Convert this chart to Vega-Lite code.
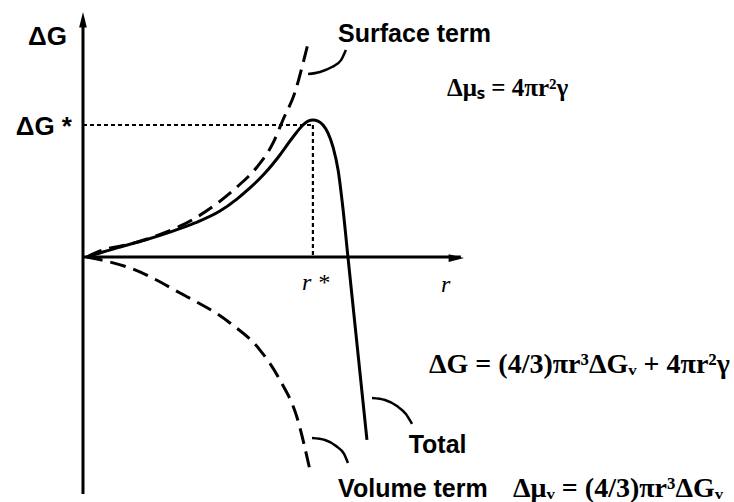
{
  "$schema": "https://vega.github.io/schema/vega-lite/v6.json",
  "width": 734,
  "height": 502,
  "autosize": {"type": "none"},
  "padding": 0,
  "background": "white",
  "config": {"view": {"stroke": null}},
  "encoding": {
    "x": {"field": "r", "type": "quantitative", "scale": {"domain": [-0.3624, 2.8428], "nice": false, "zero": false}, "axis": null},
    "y": {"field": "g", "type": "quantitative", "scale": {"domain": [-1.856, 1.947], "nice": false, "zero": false}, "axis": null}
  },
  "layer": [
    {
      "data": {"values": [
        {"r": 0, "g": -1.795, "r2": 0, "g2": 1.80},
        {"r": 0, "g": 0, "r2": 1.65, "g2": 0}
      ]},
      "mark": {"type": "rule", "color": "black", "strokeWidth": 3},
      "encoding": {"x2": {"field": "r2"}, "y2": {"field": "g2"}}
    },
    {
      "data": {"values": [{"r": 0, "g": 1.856}]},
      "mark": {"type": "point", "shape": "M0,0L-0.55,2.2L0.55,2.2Z", "size": 196, "filled": true, "color": "black", "opacity": 1},
      "encoding": {}
    },
    {
      "data": {"values": [{"r": 1.664, "g": -0.008}]},
      "mark": {"type": "point", "shape": "M0,0L-2.2,-0.55L-2.2,0.55Z", "size": 196, "filled": true, "color": "black", "opacity": 1},
      "encoding": {}
    },
    {
      "data": {"values": [
        {"r": 0, "g": 1.0, "r2": 1.004, "g2": 1.0},
        {"r": 1.004, "g": 1.0, "r2": 1.004, "g2": 0}
      ]},
      "mark": {"type": "rule", "color": "black", "strokeWidth": 2.2, "strokeDash": [4, 3]},
      "encoding": {"x2": {"field": "r2"}, "y2": {"field": "g2"}}
    },
    {
      "data": {"values": [
        {"r": 0.017, "g": 0},
        {"r": 0.087, "g": 0.038},
        {"r": 0.162, "g": 0.076},
        {"r": 0.271, "g": 0.129},
        {"r": 0.380, "g": 0.189},
        {"r": 0.489, "g": 0.258},
        {"r": 0.598, "g": 0.348},
        {"r": 0.672, "g": 0.439},
        {"r": 0.729, "g": 0.523},
        {"r": 0.795, "g": 0.636},
        {"r": 0.860, "g": 0.773},
        {"r": 0.917, "g": 0.909},
        {"r": 0.961, "g": 1.000},
        {"r": 0.983, "g": 1.030},
        {"r": 1.004, "g": 1.038},
        {"r": 1.026, "g": 1.030},
        {"r": 1.048, "g": 1.000},
        {"r": 1.070, "g": 0.939},
        {"r": 1.092, "g": 0.833},
        {"r": 1.114, "g": 0.659},
        {"r": 1.135, "g": 0.371},
        {"r": 1.157, "g": 0},
        {"r": 1.240, "g": -1.386}
      ]},
      "mark": {"type": "line", "color": "black", "strokeWidth": 3, "interpolate": "monotone"},
      "encoding": {}
    },
    {
      "data": {"values": [
        {"s": "surface", "r": 0.017, "g": 0},
        {"s": "surface", "r": 0.087, "g": 0.053},
        {"s": "surface", "r": 0.205, "g": 0.098},
        {"s": "surface", "r": 0.306, "g": 0.152},
        {"s": "surface", "r": 0.498, "g": 0.303},
        {"s": "surface", "r": 0.672, "g": 0.530},
        {"s": "surface", "r": 0.760, "g": 0.682},
        {"s": "surface", "r": 0.830, "g": 0.864},
        {"s": "surface", "r": 0.873, "g": 1.038},
        {"s": "surface", "r": 0.926, "g": 1.250},
        {"s": "surface", "r": 0.961, "g": 1.470},
        {"s": "surface", "r": 0.983, "g": 1.621},
        {"s": "volume", "r": 0.017, "g": 0},
        {"s": "volume", "r": 0.118, "g": -0.038},
        {"s": "volume", "r": 0.205, "g": -0.083},
        {"s": "volume", "r": 0.424, "g": -0.273},
        {"s": "volume", "r": 0.642, "g": -0.500},
        {"s": "volume", "r": 0.773, "g": -0.705},
        {"s": "volume", "r": 0.860, "g": -0.932},
        {"s": "volume", "r": 0.934, "g": -1.212},
        {"s": "volume", "r": 0.991, "g": -1.614}
      ]},
      "mark": {"type": "line", "color": "black", "strokeWidth": 3, "strokeDash": [16, 8], "interpolate": "monotone"},
      "encoding": {"detail": {"field": "s"}}
    },
    {
      "data": {"values": [
        {"l": "surface", "r": 0.983, "g": 1.386},
        {"l": "surface", "r": 1.035, "g": 1.402},
        {"l": "surface", "r": 1.087, "g": 1.439},
        {"l": "surface", "r": 1.127, "g": 1.492},
        {"l": "surface", "r": 1.148, "g": 1.568},
        {"l": "total", "r": 1.262, "g": -1.068},
        {"l": "total", "r": 1.319, "g": -1.083},
        {"l": "total", "r": 1.371, "g": -1.129},
        {"l": "total", "r": 1.410, "g": -1.189},
        {"l": "total", "r": 1.437, "g": -1.265},
        {"l": "volume", "r": 1.000, "g": -1.371},
        {"l": "volume", "r": 1.057, "g": -1.386},
        {"l": "volume", "r": 1.105, "g": -1.432},
        {"l": "volume", "r": 1.140, "g": -1.492},
        {"l": "volume", "r": 1.157, "g": -1.561}
      ]},
      "mark": {"type": "line", "color": "black", "strokeWidth": 2.5, "interpolate": "monotone"},
      "encoding": {"detail": {"field": "l"}}
    },
    {
      "data": {"values": [
        {"t": "ΔG", "r": -0.070, "g": 1.667},
        {"t": "ΔG *", "r": -0.048, "g": 0.985}
      ]},
      "mark": {"type": "text", "font": "Liberation Sans", "fontWeight": "bold", "fontSize": 26, "align": "right", "baseline": "middle", "color": "black"},
      "encoding": {"text": {"field": "t"}}
    },
    {
      "data": {"values": [
        {"t": "Surface term", "r": 1.114, "g": 1.689},
        {"t": "Total", "r": 1.422, "g": -1.424},
        {"t": "Volume term", "r": 1.114, "g": -1.758}
      ]},
      "mark": {"type": "text", "font": "Liberation Sans", "fontWeight": "bold", "fontSize": 25, "align": "left", "baseline": "middle", "color": "black"},
      "encoding": {"text": {"field": "t"}}
    },
    {
      "data": {"values": [
        {"t": "Δμₛ = 4πr²γ", "r": 1.590, "g": 1.280}
      ]},
      "mark": {"type": "text", "font": "Liberation Serif", "fontWeight": "bold", "fontSize": 25, "align": "left", "baseline": "middle", "color": "black"},
      "encoding": {"text": {"field": "t"}}
    },
    {
      "data": {"values": [
        {"t": "ΔG = (4/3)πr³ΔGᵥ + 4πr²γ", "r": 1.511, "g": -0.818},
        {"t": "Δμᵥ = (4/3)πr³ΔGᵥ", "r": 1.878, "g": -1.758}
      ]},
      "mark": {"type": "text", "font": "Liberation Serif", "fontWeight": "bold", "fontSize": 28, "align": "left", "baseline": "middle", "color": "black"},
      "encoding": {"text": {"field": "t"}}
    },
    {
      "data": {"values": [
        {"t": "r *", "r": 0.956, "g": -0.197},
        {"t": "r", "r": 1.563, "g": -0.212}
      ]},
      "mark": {"type": "text", "font": "Liberation Serif", "fontStyle": "italic", "fontSize": 24, "align": "left", "baseline": "middle", "color": "black"},
      "encoding": {"text": {"field": "t"}}
    }
  ]
}
